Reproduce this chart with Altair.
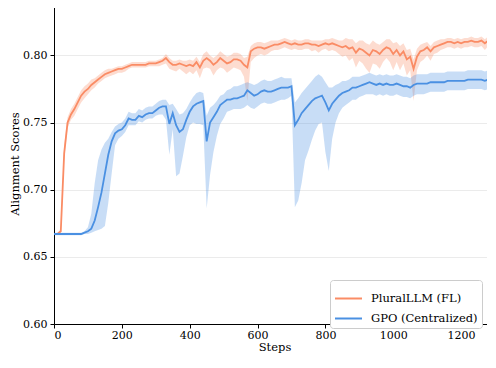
import altair as alt
import pandas as pd

steps = list(range(0, 1310, 10))

plural_mean = [
    0.667, 0.667, 0.669, 0.727, 0.750, 0.756, 0.760, 0.765, 0.770, 0.773,
    0.775, 0.778, 0.780, 0.782, 0.784, 0.786, 0.787, 0.788, 0.789, 0.790,
    0.790, 0.791, 0.792, 0.793, 0.793, 0.793, 0.793, 0.793, 0.794, 0.794,
    0.794, 0.795, 0.796, 0.798, 0.795, 0.793, 0.793, 0.794, 0.793, 0.792,
    0.793, 0.792, 0.795, 0.791, 0.796, 0.798, 0.796, 0.793, 0.795, 0.798,
    0.796, 0.794, 0.795, 0.797, 0.797, 0.796, 0.793, 0.791, 0.803, 0.805,
    0.806, 0.806, 0.805, 0.806, 0.807, 0.808, 0.808, 0.809, 0.810, 0.809,
    0.808, 0.809, 0.808, 0.808, 0.809, 0.809, 0.808, 0.808, 0.807, 0.808,
    0.809, 0.808, 0.809, 0.808, 0.807, 0.806, 0.807, 0.805, 0.806, 0.802,
    0.805, 0.804, 0.802, 0.800, 0.804, 0.803, 0.801, 0.804, 0.806, 0.805,
    0.801, 0.804, 0.800, 0.803, 0.797, 0.799, 0.790, 0.799, 0.803, 0.804,
    0.806, 0.803, 0.806, 0.807, 0.808, 0.809, 0.810, 0.810, 0.809, 0.810,
    0.809, 0.810, 0.810, 0.811, 0.810, 0.810, 0.811, 0.809, 0.811, 0.807,
    0.809,
]
plural_dlo = [
    0.0005, 0.0005, 0.001, 0.004, 0.004, 0.004, 0.005, 0.005, 0.005, 0.005,
    0.004, 0.004, 0.004, 0.003, 0.003, 0.003, 0.003, 0.003, 0.003, 0.003,
    0.003, 0.003, 0.002, 0.002, 0.002, 0.002, 0.002, 0.002, 0.002, 0.002,
    0.002, 0.003, 0.003, 0.004, 0.005, 0.004, 0.005, 0.004, 0.005, 0.006,
    0.005, 0.006, 0.006, 0.008, 0.006, 0.007, 0.006, 0.008, 0.006, 0.007,
    0.006, 0.007, 0.006, 0.006, 0.007, 0.007, 0.009, 0.025, 0.008, 0.007,
    0.006, 0.005, 0.005, 0.005, 0.004, 0.004, 0.004, 0.004, 0.004, 0.004,
    0.004, 0.004, 0.004, 0.004, 0.004, 0.004, 0.005, 0.004, 0.005, 0.004,
    0.004, 0.005, 0.005, 0.005, 0.006, 0.007, 0.007, 0.009, 0.008, 0.011,
    0.009, 0.010, 0.012, 0.013, 0.010, 0.010, 0.011, 0.009, 0.008, 0.010,
    0.012, 0.009, 0.011, 0.009, 0.012, 0.010, 0.024, 0.010, 0.008, 0.007,
    0.006, 0.007, 0.005, 0.005, 0.004, 0.004, 0.004, 0.004, 0.004, 0.004,
    0.004, 0.004, 0.004, 0.004, 0.004, 0.004, 0.004, 0.005, 0.004, 0.005,
    0.004,
]
plural_dhi = [
    0.0005, 0.0005, 0.002, 0.006, 0.004, 0.004, 0.004, 0.004, 0.004, 0.004,
    0.004, 0.004, 0.003, 0.003, 0.003, 0.003, 0.003, 0.002, 0.002, 0.002,
    0.002, 0.002, 0.002, 0.002, 0.002, 0.002, 0.002, 0.002, 0.002, 0.002,
    0.002, 0.002, 0.002, 0.003, 0.003, 0.003, 0.003, 0.003, 0.003, 0.004,
    0.004, 0.004, 0.004, 0.004, 0.005, 0.005, 0.004, 0.005, 0.005, 0.005,
    0.005, 0.005, 0.005, 0.005, 0.005, 0.005, 0.005, 0.008, 0.004, 0.004,
    0.004, 0.004, 0.004, 0.004, 0.004, 0.003, 0.003, 0.003, 0.003, 0.003,
    0.003, 0.003, 0.003, 0.003, 0.003, 0.003, 0.003, 0.003, 0.004, 0.003,
    0.003, 0.004, 0.004, 0.004, 0.004, 0.005, 0.006, 0.007, 0.006, 0.007,
    0.006, 0.007, 0.007, 0.008, 0.007, 0.006, 0.007, 0.006, 0.006, 0.007,
    0.008, 0.006, 0.007, 0.006, 0.007, 0.006, 0.007, 0.006, 0.005, 0.005,
    0.004, 0.004, 0.004, 0.004, 0.004, 0.003, 0.003, 0.003, 0.003, 0.003,
    0.003, 0.003, 0.003, 0.003, 0.003, 0.003, 0.003, 0.003, 0.003, 0.003,
    0.003,
]

gpo_mean = [
    0.667, 0.667, 0.667, 0.667, 0.667, 0.667, 0.667, 0.667, 0.667, 0.668,
    0.669, 0.671, 0.677, 0.687, 0.698, 0.712, 0.726, 0.736, 0.742, 0.744,
    0.745, 0.748, 0.753, 0.752, 0.752, 0.755, 0.754, 0.756, 0.757, 0.757,
    0.759, 0.761, 0.762, 0.762, 0.749, 0.757, 0.748, 0.743, 0.745, 0.752,
    0.758, 0.762, 0.764, 0.765, 0.766, 0.736, 0.750, 0.754, 0.758, 0.763,
    0.765, 0.767, 0.767, 0.768, 0.768, 0.769, 0.770, 0.774, 0.772, 0.770,
    0.771, 0.773, 0.774, 0.773, 0.773, 0.774, 0.775, 0.776, 0.776, 0.776,
    0.777, 0.748, 0.752, 0.757, 0.760, 0.763, 0.766, 0.768, 0.769, 0.770,
    0.765, 0.759, 0.764, 0.767, 0.770, 0.772, 0.773, 0.774, 0.776, 0.776,
    0.777, 0.778, 0.779, 0.780, 0.779, 0.778, 0.779, 0.778, 0.779, 0.778,
    0.778, 0.779, 0.778, 0.777, 0.777, 0.776, 0.778, 0.779, 0.779, 0.779,
    0.779, 0.780, 0.780, 0.780, 0.780, 0.780, 0.781, 0.781, 0.781, 0.781,
    0.781, 0.781, 0.782, 0.782, 0.782, 0.782, 0.782, 0.781, 0.782, 0.782,
    0.782,
]
gpo_dlo = [
    0.001, 0.001, 0.001, 0.001, 0.001, 0.001, 0.001, 0.001, 0.001, 0.001,
    0.002, 0.003, 0.008, 0.017, 0.027, 0.039, 0.036, 0.024, 0.009, 0.006,
    0.005, 0.005, 0.005, 0.004, 0.004, 0.004, 0.004, 0.004, 0.004, 0.004,
    0.004, 0.005, 0.006, 0.010, 0.023, 0.012, 0.038, 0.031, 0.020, 0.013,
    0.010, 0.012, 0.015, 0.016, 0.018, 0.050, 0.039, 0.026, 0.018, 0.014,
    0.012, 0.009, 0.008, 0.008, 0.008, 0.009, 0.009, 0.011, 0.011, 0.010,
    0.009, 0.009, 0.009, 0.009, 0.009, 0.009, 0.009, 0.009, 0.009, 0.008,
    0.007, 0.061, 0.060, 0.052, 0.038, 0.034, 0.029, 0.024, 0.020, 0.020,
    0.037, 0.045, 0.026, 0.017, 0.013, 0.011, 0.010, 0.009, 0.009, 0.009,
    0.008, 0.008, 0.008, 0.009, 0.008, 0.008, 0.008, 0.008, 0.008, 0.008,
    0.008, 0.008, 0.008, 0.008, 0.008, 0.008, 0.008, 0.008, 0.008, 0.008,
    0.007, 0.007, 0.007, 0.007, 0.007, 0.007, 0.007, 0.007, 0.007, 0.007,
    0.007, 0.007, 0.007, 0.007, 0.007, 0.007, 0.007, 0.007, 0.007, 0.007,
    0.007,
]
gpo_dhi = [
    0.001, 0.001, 0.001, 0.001, 0.001, 0.001, 0.001, 0.001, 0.001, 0.001,
    0.003, 0.011, 0.028, 0.035, 0.032, 0.023, 0.012, 0.007, 0.005, 0.005,
    0.005, 0.005, 0.005, 0.005, 0.005, 0.005, 0.005, 0.005, 0.005, 0.005,
    0.005, 0.005, 0.005, 0.005, 0.014, 0.007, 0.012, 0.013, 0.012, 0.008,
    0.007, 0.007, 0.008, 0.008, 0.006, 0.019, 0.011, 0.009, 0.008, 0.007,
    0.006, 0.007, 0.008, 0.009, 0.009, 0.009, 0.009, 0.006, 0.007, 0.008,
    0.008, 0.008, 0.008, 0.008, 0.008, 0.008, 0.008, 0.008, 0.007, 0.007,
    0.006, 0.017, 0.016, 0.015, 0.015, 0.015, 0.015, 0.016, 0.017, 0.014,
    0.015, 0.017, 0.012, 0.011, 0.009, 0.009, 0.008, 0.008, 0.008, 0.008,
    0.007, 0.007, 0.007, 0.007, 0.007, 0.007, 0.007, 0.007, 0.007, 0.007,
    0.007, 0.007, 0.007, 0.007, 0.007, 0.007, 0.007, 0.007, 0.007, 0.007,
    0.007, 0.007, 0.007, 0.007, 0.007, 0.007, 0.007, 0.007, 0.007, 0.007,
    0.007, 0.007, 0.007, 0.007, 0.007, 0.007, 0.007, 0.007, 0.007, 0.007,
    0.007,
]

series_names = ["PluralLLM (FL)", "GPO (Centralized)"]
series_colors = ["#FA8C65", "#4A90E2"]
x_ticks = [0, 200, 400, 600, 800, 1000, 1200]
y_ticks = [0.60, 0.65, 0.70, 0.75, 0.80]

rows = []
for name, mean, dlo, dhi in [
    (series_names[0], plural_mean, plural_dlo, plural_dhi),
    (series_names[1], gpo_mean, gpo_dlo, gpo_dhi),
]:
    for s, m, a, b in zip(steps, mean, dlo, dhi):
        rows.append({"series": name, "step": s, "mean": m, "lo": m - a, "hi": m + b})
df = pd.DataFrame(rows)

FONT = "DejaVu Serif"

color_scale = alt.Scale(domain=series_names, range=series_colors)

x_enc = alt.X(
    "step:Q",
    scale=alt.Scale(domain=[0, 1300], nice=False, zero=False),
    axis=alt.Axis(title="Steps", values=x_ticks, format="d", grid=False,
                  labelPadding=1, titlePadding=1),
)
y_scale = alt.Scale(domain=[0.6, 0.839], nice=False, zero=False)

band = alt.Chart(df).mark_area(fillOpacity=0.3).encode(
    x=x_enc,
    y=alt.Y(
        "lo:Q",
        scale=y_scale,
        axis=alt.Axis(title="Alignment Scores", values=y_ticks, format=".2f",
                      grid=True, labelPadding=3, titlePadding=2),
    ),
    y2="hi:Q",
    color=alt.Color("series:N", scale=color_scale),
)

line = alt.Chart(df).mark_line(strokeWidth=1.8).encode(
    x=x_enc,
    y=alt.Y("mean:Q", scale=y_scale),
    color=alt.Color(
        "series:N",
        scale=color_scale,
        legend=alt.Legend(
            title=None,
            orient="none",
            legendX=276,
            legendY=277,
            symbolType="stroke",
            symbolSize=729,
            symbolStrokeWidth=2,
            symbolOpacity=1,
            labelFont=FONT,
            labelFontSize=11.5,
            labelColor="#000000",
            labelOffset=8,
            rowPadding=0,
            padding=4,
            strokeColor="#cccccc",
            fillColor="#ffffff",
            cornerRadius=3,
        ),
    ),
)

chart = (
    alt.layer(band, line)
    .properties(
        width=441,
        height=321,
        padding={"left": 46, "top": -5, "right": -8, "bottom": 32},
        autosize=alt.AutoSizeParams(type="none"),
    )
    .configure_view(stroke=None)
    .configure_axis(
        labelFont=FONT,
        labelFontSize=11,
        labelColor="#000000",
        titleFont=FONT,
        titleFontSize=11.5,
        titleFontWeight="normal",
        titleColor="#000000",
        domainColor="#000000",
        domainWidth=1,
        tickColor="#000000",
        tickSize=4,
        gridColor="#e6e6e6",
        gridWidth=0.8,
    )
)

chart.save("out.html", embed_options={"renderer": "svg", "actions": False})
